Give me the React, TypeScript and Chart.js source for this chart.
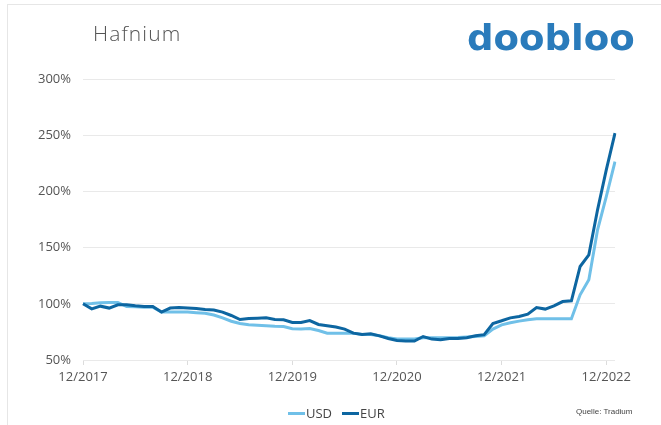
import React, { useEffect, useRef } from "react";
import { Chart, registerables } from "chart.js";

Chart.register(...registerables);

// Monthly categories: 12/2017 ... 01/2023
const months: string[] = [];
for (let k = 0; k < 62; k++) {
  const m = ((11 + k) % 12) + 1;
  const y = 2017 + Math.floor((11 + k) / 12);
  months.push(String(m).padStart(2, "0") + "/" + y);
}

const usd = [
  100, 100.3, 101, 101.2, 101.2, 97.6, 97.3, 97, 97, 92.6,
  92.6, 92.6, 92.6, 92, 91.5, 90, 87.5, 84.5, 82.5, 81.3,
  80.9, 80.4, 80, 79.8, 77.8, 77.5, 78, 76.2, 73.9, 73.9,
  73.9, 73.9, 72.7, 72.7, 71.5, 69.8, 68.6, 68.6, 68.6, 69.8,
  69.8, 69.8, 69.8, 70, 70.4, 70.9, 71.5, 77.5, 81.3, 83.1,
  84.6, 85.8, 86.6, 86.6, 86.6, 86.6, 86.6, 108, 121.4, 165.8,
  195.4, 226.5,
];

const eur = [
  100, 95.5, 97.9, 96.2, 99.1, 99.1, 98.2, 97.6, 97.6, 92.6,
  96.2, 96.7, 96.2, 95.8, 94.9, 94.5, 92.6, 89.6, 86, 86.9,
  87.2, 87.5, 86, 85.8, 83.4, 83.4, 85.1, 81.6, 80.4, 79.3,
  77.5, 73.9, 72.7, 73.3, 71.5, 69.1, 67.3, 66.8, 66.8, 70.9,
  68.6, 68, 69.1, 69.1, 69.8, 71.5, 72.5, 82.5, 84.9, 87.5,
  88.7, 90.8, 96.7, 95.3, 98.2, 102, 102.7, 133.2, 143.6, 183.6,
  219.2, 251.8,
];

const yTicks = [50, 100, 150, 200, 250, 300];

const USD_COLOR = "#70c0e8";
const EUR_COLOR = "#0d66a1";
const TEXT_COLOR = "#555555";
const FONT = "'Open Sans', 'DejaVu Sans', sans-serif";

export default function App() {
  const ref = useRef<HTMLCanvasElement | null>(null);

  useEffect(() => {
    if (!ref.current) return;
    const chart = new Chart(ref.current, {
      type: "line",
      data: {
        labels: months,
        datasets: [
          {
            label: "EUR",
            data: eur,
            borderColor: EUR_COLOR,
            backgroundColor: EUR_COLOR,
            borderWidth: 3,
            pointRadius: 0,
            tension: 0,
            order: 0,
          },
          {
            label: "USD",
            data: usd,
            borderColor: USD_COLOR,
            backgroundColor: USD_COLOR,
            borderWidth: 3,
            pointRadius: 0,
            tension: 0,
            order: 1,
          },
        ],
      },
      options: {
        animation: false,
        responsive: false,
        maintainAspectRatio: false,
        layout: { padding: { left: 0, right: 46, top: 79, bottom: 40 } },
        plugins: {
          legend: { display: false },
          tooltip: { enabled: false },
        },
        scales: {
          x: {
            type: "category",
            offset: false,
            border: { display: false },
            grid: {
              drawOnChartArea: false,
              drawTicks: true,
              tickLength: 5,
              color: (ctx: any) => {
                const t = ctx.tick;
                if (!t) return "rgba(0,0,0,0)";
                const lab = months[t.value];
                return lab && lab.startsWith("12/") ? "#dcdcdc" : "rgba(0,0,0,0)";
              },
            },
            ticks: {
              autoSkip: false,
              maxRotation: 0,
              minRotation: 0,
              padding: 4,
              color: TEXT_COLOR,
              font: { family: FONT, size: 13 },
              callback: (_v: any, i: number) =>
                months[i].startsWith("12/") ? months[i] : "",
            },
            afterFit: (s: any) => {
              s.height = 25;
            },
          },
          y: {
            min: 50,
            max: 300,
            border: { display: false },
            grid: { color: "#e9e9e9", drawTicks: false, lineWidth: 1 },
            afterBuildTicks: (s: any) => {
              s.ticks = yTicks.map((v) => ({ value: v }));
            },
            ticks: {
              padding: 12,
              color: TEXT_COLOR,
              font: { family: FONT, size: 13 },
              callback: (v: any) => v + "%",
            },
            afterFit: (s: any) => {
              s.width = 83;
            },
          },
        },
      },
    });
    return () => chart.destroy();
  }, []);

  return (
    <div
      style={{
        position: "absolute",
        left: 0,
        top: 0,
        width: 661,
        height: 425,
        background: "#ffffff",
        overflow: "hidden",
      }}
    >
      <div
        style={{
          position: "absolute",
          left: 7,
          top: 4,
          width: 654,
          height: 421,
          borderLeft: "1px solid #e6e6e6",
          borderTop: "1px solid #e6e6e6",
          boxSizing: "border-box",
        }}
      />
      <canvas
        ref={ref}
        width={661}
        height={425}
        style={{ position: "absolute", left: 0, top: 0, display: "block" }}
      />
      <div
        style={{
          position: "absolute",
          left: 93,
          top: 23,
          fontFamily: FONT,
          fontWeight: 300,
          fontSize: 21,
          lineHeight: "21px",
          letterSpacing: 1.1,
          color: TEXT_COLOR,
          whiteSpace: "nowrap",
        }}
      >
        Hafnium
      </div>
      <div
        style={{
          position: "absolute",
          left: 467,
          top: 20,
          fontFamily: "'DejaVu Sans', sans-serif",
          fontWeight: 700,
          fontSize: 36,
          lineHeight: "36px",
          color: "#2a7bbb",
          whiteSpace: "nowrap",
          transform: "scaleX(1.03)",
          transformOrigin: "left top",
        }}
      >
        doobloo
      </div>
      <div
        style={{
          position: "absolute",
          left: 288,
          top: 405,
          height: 16,
          display: "flex",
          alignItems: "center",
          fontFamily: FONT,
          fontSize: 13,
          color: "#444444",
          whiteSpace: "nowrap",
        }}
      >
        <span style={{ display: "inline-block", width: 17, height: 3, background: USD_COLOR }} />
        <span style={{ marginLeft: 1 }}>USD</span>
        <span style={{ display: "inline-block", width: 17, height: 3, background: EUR_COLOR, marginLeft: 10 }} />
        <span style={{ marginLeft: 1 }}>EUR</span>
      </div>
      <div
        style={{
          position: "absolute",
          left: 576,
          top: 407,
          fontFamily: "'Liberation Sans', Arial, sans-serif",
          fontSize: 8,
          lineHeight: "9px",
          color: "#444444",
          whiteSpace: "nowrap",
        }}
      >
        Quelle: Tradium
      </div>
    </div>
  );
}
